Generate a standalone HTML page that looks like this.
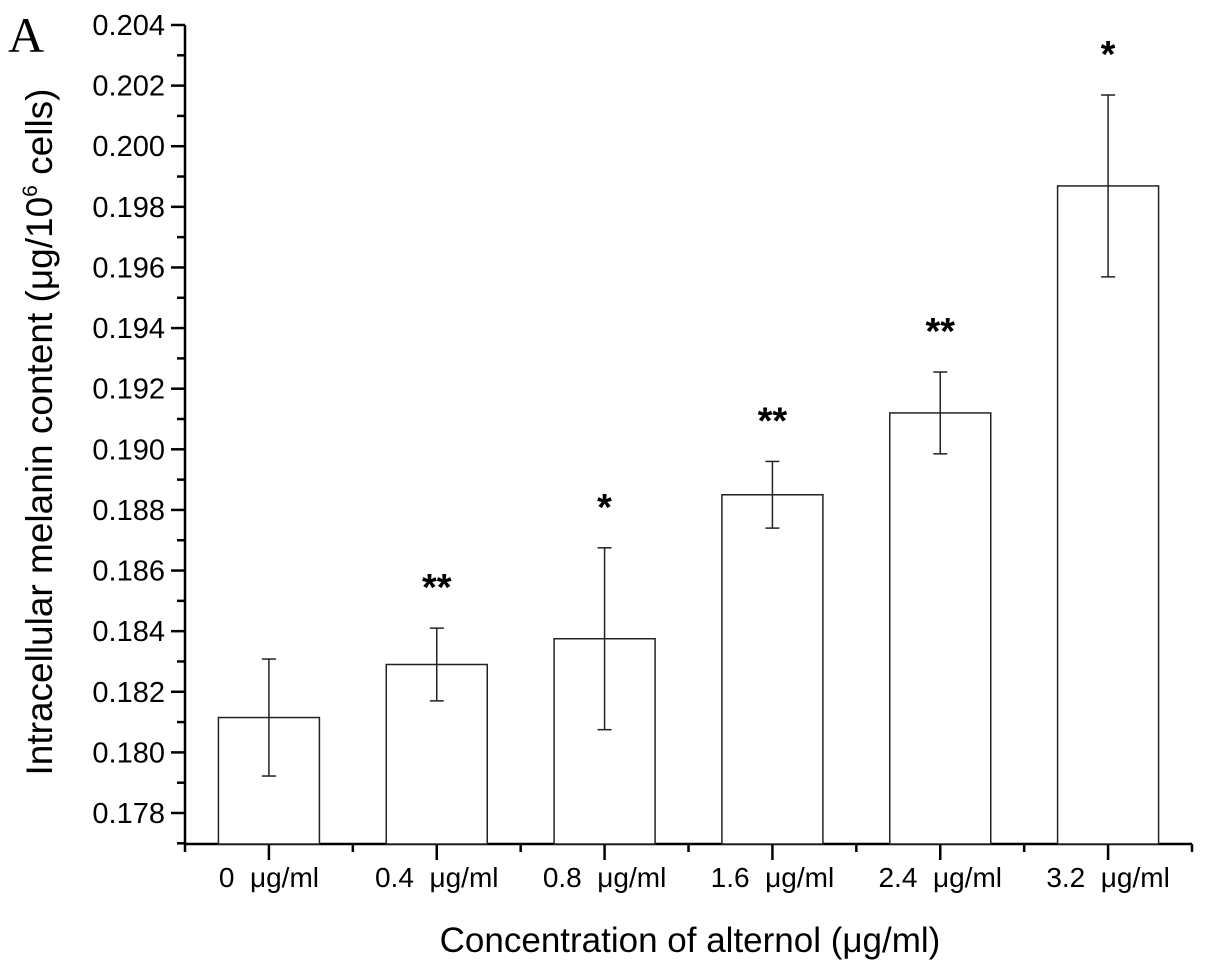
<!DOCTYPE html>
<html><head><meta charset="utf-8"><style>
body{margin:0;background:#fff;}
svg{display:block;font-family:"Liberation Sans",Arial,sans-serif;}
</style></head><body>
<svg id="chart" width="1205" height="971">
<text x="8" y="52" font-family="Liberation Serif,serif" font-size="50">A</text>
<g id="axes"></g>
<g id="bars"></g>
<text transform="translate(52,432) rotate(-90)" text-anchor="middle" font-size="37">Intracellular melanin content (μg/10<tspan dy="-15" font-size="21">6</tspan><tspan dy="15"> cells)</tspan></text>
<text x="690" y="952" text-anchor="middle" font-size="35">Concentration of alternol (μg/ml)</text>
</svg>
<script>
const categories=["0\u00a0\u00a0μg/ml","0.4\u00a0\u00a0μg/ml","0.8\u00a0\u00a0μg/ml","1.6\u00a0\u00a0μg/ml","2.4\u00a0\u00a0μg/ml","3.2\u00a0\u00a0μg/ml"];
const values=[0.18115,0.1829,0.18375,0.1885,0.1912,0.19869];
const errors=[0.00193,0.0012,0.003,0.0011,0.00135,0.0030];
const stars=["","**","*","**","**","*"];
const yTicks=[0.178,0.180,0.182,0.184,0.186,0.188,0.190,0.192,0.194,0.196,0.198,0.200,0.202,0.204];
const NS="http://www.w3.org/2000/svg";
const X0=185,X1=1192,YB=844;
const y=v=>25+(0.204-v)*30308;
const band=(X1-X0)/categories.length;
const xc=i=>X0+band*(i+0.5);
function mk(tag,attrs,parent){const e=document.createElementNS(NS,tag);for(const k in attrs)e.setAttribute(k,attrs[k]);parent.appendChild(e);return e;}
const ax=document.getElementById('axes'),bg=document.getElementById('bars');
let l=mk('line',{x1:X0,y1:y(0.204),x2:X0,y2:YB,stroke:'#000','stroke-width':2.5},ax);

l=mk('line',{x1:X0-1,y1:YB,x2:X1,y2:YB,stroke:'#000','stroke-width':2.5},ax);

yTicks.forEach((t,i)=>{
  mk('line',{x1:X0-14,y1:y(t),x2:X0,y2:y(t),stroke:'#000','stroke-width':2.5},ax);
  if(i<yTicks.length-1)mk('line',{x1:X0-8,y1:y(t+0.001),x2:X0,y2:y(t+0.001),stroke:'#000','stroke-width':2.5},ax);
  const tx=mk('text',{x:X0-20,y:y(t)+10,'text-anchor':'end','font-size':29},ax);
  tx.textContent=t.toFixed(3);
  
  
});
mk('line',{x1:X0-8,y1:y(0.177),x2:X0,y2:y(0.177),stroke:'#000','stroke-width':2.5},ax);
for(let i=0;i<=categories.length;i++){
  mk('line',{x1:X0+band*i,y1:YB,x2:X0+band*i,y2:YB+8,stroke:'#000','stroke-width':2.5},ax);
}
categories.forEach((c,i)=>{
  mk('line',{x1:xc(i),y1:YB,x2:xc(i),y2:YB+16,stroke:'#000','stroke-width':2.5},ax);
  const tx=mk('text',{x:xc(i),y:YB+43,'text-anchor':'middle','font-size':28},ax);
  tx.textContent=c;
  
  
  const bw=101;
  const r=mk('rect',{x:xc(i)-bw/2,y:y(values[i]),width:bw,height:YB-y(values[i]),fill:'#fff',stroke:'#222','stroke-width':1.5},bg);
  
  
  const hi=y(values[i]+errors[i]),lo=y(values[i]-errors[i]);
  const g=mk('g',{stroke:'#222','stroke-width':1.5},bg);
  
  
  mk('line',{x1:xc(i),y1:hi,x2:xc(i),y2:lo},g);
  mk('line',{x1:xc(i)-7,y1:hi,x2:xc(i)+7,y2:hi},g);
  mk('line',{x1:xc(i)-7,y1:lo,x2:xc(i)+7,y2:lo},g);
  if(stars[i]){
    const s=mk('text',{x:xc(i),y:hi-28,'text-anchor':'middle','font-size':38,'font-weight':'bold'},bg);
    s.textContent=stars[i];
    
    
  }
});
</script>
</body></html>
